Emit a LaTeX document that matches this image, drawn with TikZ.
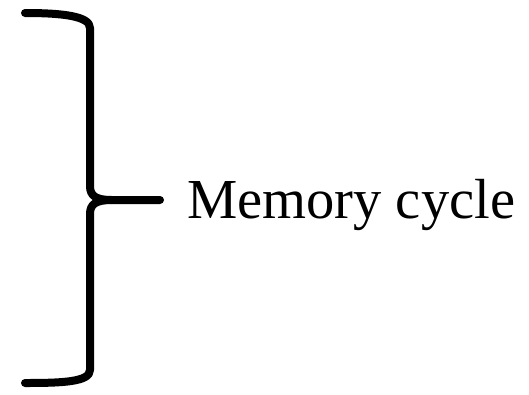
\documentclass[tikz,border=0pt]{standalone}
\usepackage{fontspec}
\setmainfont{Liberation Serif}
\usepackage{tikz}
\tikzset{
  bracepath/.style={line width=8pt, line cap=round, line join=round, black},
  bracelabel/.style={anchor=base west, inner sep=0pt, font=\fontsize{56.5}{60}\selectfont}
}
\begin{document}
\begin{tikzpicture}[x=1pt,y=-1pt]
\useasboundingbox (0,0) rectangle (529,394);
\coordinate (top) at (25,13);
\coordinate (tip) at (160,200);
\coordinate (bot) at (25,383);
\draw[bracepath] (top) .. controls (62,13) and (90,16) .. (90,28) -- (90,186)
  .. controls (90,196) and (96,200) .. (112,200) -- (tip);
\draw[bracepath] (112,200) .. controls (96,200) and (90,204) .. (90,214) -- (90,370)
  .. controls (90,382) and (62,383) .. (bot);
\node[bracelabel] (cycle) at (187,218) {Memory cycle};
\end{tikzpicture}
\end{document}
